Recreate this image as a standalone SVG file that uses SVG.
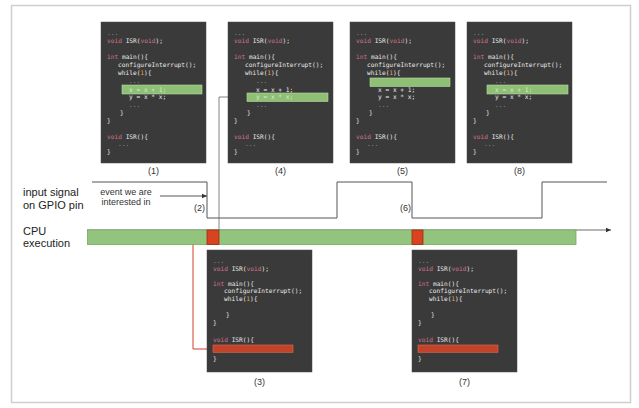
<svg xmlns="http://www.w3.org/2000/svg" xmlns:xlink="http://www.w3.org/1999/xlink" width="639" height="408" viewBox="0 0 639 408">
<style>
.frame{fill:#fff;stroke:#cfcfcf;stroke-width:1.5}
.panel{fill:#3a3a3a;stroke:#4a4a4a;stroke-width:0.5}
.code{font-family:"DejaVu Sans Mono","Liberation Mono",monospace;font-size:6.2px;fill:#e8e8e8}
.k{fill:#d0748a}
.d{fill:#e9a24c}
.g{fill:#9a9a9a}
.hl{fill:#8fbe75;stroke:#b7d9a6;stroke-width:0.6}
.hlt{font-family:"DejaVu Sans Mono","Liberation Mono",monospace;font-size:6.2px;fill:#d4ebc8}
.rb{fill:#c2432a;stroke:#e06a50;stroke-width:0.6}
.lbl{font-family:"Liberation Sans",Arial,sans-serif;font-size:9px;fill:#333}
.big{font-family:"Liberation Sans",Arial,sans-serif;font-size:11px;fill:#222}
.sig{fill:none;stroke:#555;stroke-width:1}
.thin{fill:none;stroke:#666;stroke-width:0.8}
.red{fill:none;stroke:#d0402a;stroke-width:1}
</style>
<defs>
<marker id="ah" markerWidth="6" markerHeight="6" refX="5" refY="3" orient="auto" markerUnits="userSpaceOnUse">
<path d="M0,0.8 L5,3 L0,5.2 z" fill="#333"/>
</marker>
<g id="codeTop">
<rect class="panel" x="0" y="0" width="105" height="141"/>
<text class="code g" x="6" y="13">...</text>
<text class="code" x="6" y="21"><tspan class="k">void</tspan> ISR(<tspan class="k">void</tspan>);</text>
<text class="code" x="6" y="37"><tspan class="k">int</tspan> main(){</text>
<text class="code" x="17" y="45">configureInterrupt();</text>
<text class="code" x="17" y="53">while(<tspan class="d">1</tspan>){</text>
<text class="code g" x="28" y="60.5">...</text>
<text class="code" x="28" y="69.5">x = x + 1;</text>
<text class="code" x="28" y="77.2">y = x * x;</text>
<text class="code g" x="28" y="84.5">...</text>
<text class="code" x="19" y="92.5">}</text>
<text class="code" x="6" y="100.5">}</text>
<text class="code" x="6" y="116.5"><tspan class="k">void</tspan> ISR(){</text>
<text class="code g" x="17" y="124">...</text>
<text class="code" x="6" y="132">}</text>
</g>
<g id="codeBot">
<rect class="panel" x="0" y="0" width="105" height="122"/>
<text class="code g" x="6" y="13">...</text>
<text class="code" x="6" y="20.5"><tspan class="k">void</tspan> ISR(<tspan class="k">void</tspan>);</text>
<text class="code" x="6" y="35.5"><tspan class="k">int</tspan> main(){</text>
<text class="code" x="17" y="43">configureInterrupt();</text>
<text class="code" x="17" y="50.6">while(<tspan class="d">1</tspan>){</text>
<text class="code" x="19" y="67">}</text>
<text class="code" x="6" y="74.5">}</text>
<text class="code" x="6" y="92"><tspan class="k">void</tspan> ISR(){</text>
<rect class="rb" x="6" y="95" width="80" height="7.3"/>
<text class="code" x="6" y="110.5">}</text>
</g>
</defs>

<rect class="frame" x="11.5" y="5.5" width="619" height="397"/>

<g id="connectors">
<polyline class="sig" points="92,182 207,182 207,218 337,218 337,182 412,182 412,218 542,218 542,182 607,182"/>
<line class="sig" x1="160" y1="196" x2="207" y2="196" marker-end="url(#ah)"/>
<polyline class="thin" points="228,97 219,97 219,243"/>
<polyline class="red" points="208,237 193,237 193,349 212,349"/>
</g>

<g id="labels">
<text class="big" x="23" y="196">input signal</text>
<text class="big" x="23" y="208.5">on GPIO pin</text>
<text class="big" x="23" y="234.5">CPU</text>
<text class="big" x="23" y="247">execution</text>
<text class="lbl" x="126" y="195" text-anchor="middle">event we are</text>
<text class="lbl" x="126" y="205" text-anchor="middle">interested in</text>
<text class="lbl" x="205" y="211" text-anchor="end">(2)</text>
<text class="lbl" x="411" y="211" text-anchor="end">(6)</text>
</g>

<g id="cpu">
<line x1="87" y1="230" x2="611" y2="230" stroke="#444" stroke-width="0.8" marker-end="url(#ah)"/>
<rect x="87.5" y="230" width="488.5" height="14.5" fill="#93c47d" stroke="#78a862" stroke-width="0.8"/>
<rect x="207" y="230" width="12" height="14.5" fill="#d8441f" stroke="#9e2c12" stroke-width="0.8"/>
<rect x="412" y="230" width="11" height="14.5" fill="#d8441f" stroke="#9e2c12" stroke-width="0.8"/>
</g>

<g id="panel1" transform="translate(101,22)">
<use xlink:href="#codeTop"/>
<rect class="hl" x="21" y="63" width="80" height="9"/>
<text class="hlt" x="28" y="69.5">x = x + 1;</text>
</g>
<text class="lbl" x="153.5" y="174" text-anchor="middle">(1)</text>

<g id="panel4" transform="translate(228,22)">
<use xlink:href="#codeTop"/>
<rect class="hl" x="19" y="71" width="81" height="8.5"/>
<text class="hlt" x="28" y="77.2">y = x * x;</text>
</g>
<text class="lbl" x="280.5" y="174" text-anchor="middle">(4)</text>

<g id="panel5" transform="translate(350,22)">
<use xlink:href="#codeTop"/>
<rect class="hl" x="20" y="56" width="80" height="8.5"/>
</g>
<text class="lbl" x="402.5" y="174" text-anchor="middle">(5)</text>

<g id="panel8" transform="translate(467,22)">
<use xlink:href="#codeTop"/>
<rect class="hl" x="20" y="63" width="81" height="9"/>
<text class="hlt" x="28" y="69.5">x = x + 1;</text>
</g>
<text class="lbl" x="519.5" y="174" text-anchor="middle">(8)</text>

<g id="panel3" transform="translate(207,250)">
<use xlink:href="#codeBot"/>
</g>
<text class="lbl" x="259.5" y="385" text-anchor="middle">(3)</text>

<g id="panel7" transform="translate(412,250)">
<use xlink:href="#codeBot"/>
</g>
<text class="lbl" x="464.5" y="385" text-anchor="middle">(7)</text>
</svg>
